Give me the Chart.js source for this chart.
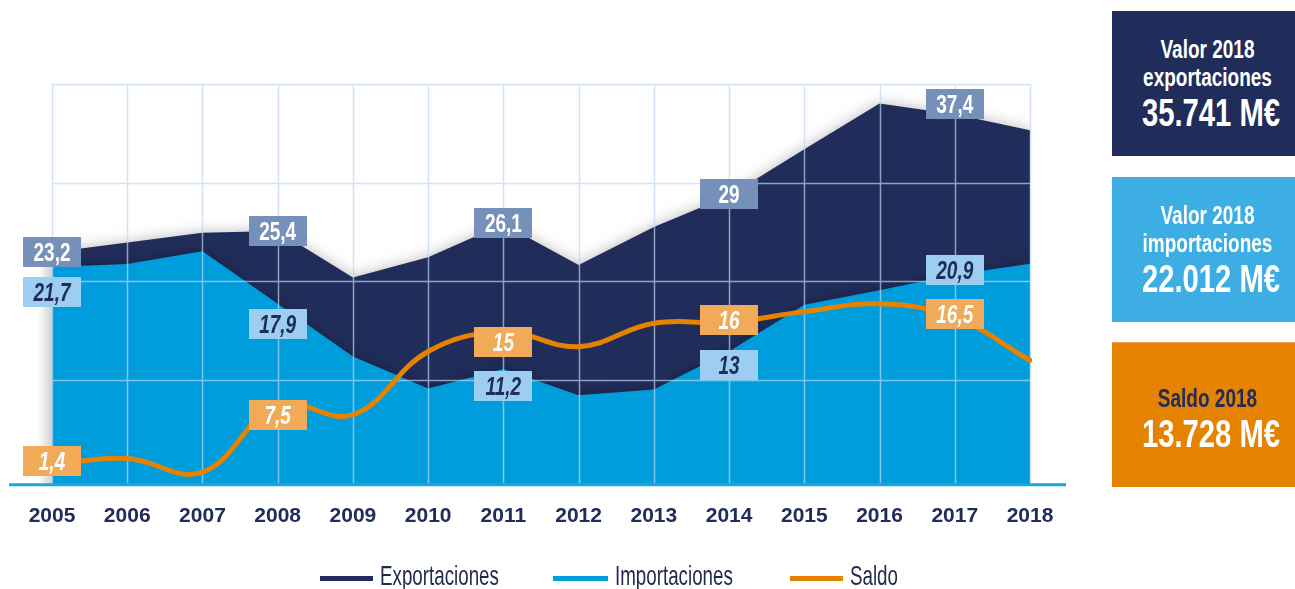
<!DOCTYPE html>
<html lang="es">
<head>
<meta charset="utf-8">
<title>Exportaciones e importaciones 2005-2018</title>
<script src="https://cdn.jsdelivr.net/npm/chart.js@4.4.1/dist/chart.umd.min.js"></script>
<style>
  html, body { margin: 0; padding: 0; background: #fff; }
  body {
    width: 1295px; height: 589px; position: relative; overflow: hidden;
    font-family: "Liberation Sans", Arial, sans-serif;
  }
  #wrap { position: absolute; left: 0; top: 0; width: 1217px; height: 589px; }
  .kpi {
    position: absolute; left: 1112px; width: 183px; height: 145px;
    box-sizing: border-box; padding-left: 8px; text-align: center;
    color: #fff; font-weight: bold;
  }
  .kpi div { font-size: 25px; line-height: 28px; white-space: nowrap; transform: scaleX(0.76); }
  .kpi div.big { font-size: 39px; line-height: 44px; transform: scaleX(0.75); }
  #k1 { top: 11px; background: #202d5a; padding-top: 24px; }
  #k2 { top: 177px; background: #3daee3; padding-top: 24px; }
  #k3 { top: 342px; background: #e58200; padding-top: 41px; border-top: 1px solid #f0a050; }
  #k3 div.dark { color: #202d5a; }
  .sw { position: absolute; top: 576px; height: 5px; }
  .lg {
    position: absolute; top: 560px; font-size: 28px; line-height: 32px; color: #1f2a4a;
    white-space: nowrap; transform: scaleX(0.67); transform-origin: left center;
  }
</style>
</head>
<body>
<div id="wrap"><canvas id="chart" width="1217" height="589"></canvas></div>

<div class="kpi" id="k1">
  <div>Valor 2018</div>
  <div>exportaciones</div>
  <div class="big">35.741 M€</div>
</div>
<div class="kpi" id="k2">
  <div>Valor 2018</div>
  <div>importaciones</div>
  <div class="big">22.012 M€</div>
</div>
<div class="kpi" id="k3">
  <div class="dark">Saldo 2018</div>
  <div class="big">13.728 M€</div>
</div>

<div id="legend"></div>

<script>
// ----- data (billions of euros) -----
const YEARS = ["2005", "2006", "2007", "2008", "2009", "2010", "2011", "2012", "2013", "2014", "2015", "2016", "2017", "2018"];
const EXPORTS = [23.2, 24.2, 25.2, 25.4, 20.6, 22.7, 26.1, 21.9, 25.8, 29, 33.8, 38.5, 37.4, 35.74];
const IMPORTS = [21.7, 22.0, 23.3, 17.9, 12.5, 9.2, 11.2, 8.5, 9.1, 13, 17.8, 19.3, 20.9, 22.01];
const SALDO = [1.4, 2.0, 0.6, 7.5, 6.5, 13.0, 15, 13.5, 15.9, 16, 17.1, 17.9, 16.5, 12.1];

const SERIES_NAMES = ["Exportaciones", "Importaciones", "Saldo"];
const LABELLED = [0, 3, 6, 9, 12];          // years that carry a value box
const GRID_VALUES = [10.1, 20.2, 30.3, 40.5];

// ----- style -----
const FONT = '"Liberation Sans", Arial, sans-serif';
const NAVY = "#202d5a";
const CYAN = "#009ddc";
const ORANGE = "#e58200";
const SERIES_COLORS = [NAVY, CYAN, ORANGE];
const GRID_COLOR = "rgba(189, 215, 240, 0.69)";
const LEGEND_SWATCH_X = [320, 553, 790];
const LEGEND_TEXT_X = [380, 615, 850];

// value boxes: background, text colour, italic, vertical shift per labelled year
const BOXES = [
  { bg: "#7691b9", fg: "#ffffff", italic: false, dy: [0, 0, -1, -2, -10] },
  { bg: "#9dcdf1", fg: NAVY, italic: true, dy: [25, 20, 17, 13, -5] },
  { bg: "#f0aa58", fg: "#ffffff", italic: true, dy: [-3, 10, 10, -2, -3] }
];

const fmt = v => String(v).replace(".", ",");

// grid over the areas, shadows, value boxes and axis line
const decor = {
  id: "decor",
  beforeDatasetsDraw(chart) {
    const { ctx, chartArea: a, scales: { y } } = chart;
    // soft shadow at the left edge of the areas
    const top = y.getPixelForValue(EXPORTS[0]);
    const g = ctx.createLinearGradient(a.left - 14, 0, a.left, 0);
    g.addColorStop(0, "rgba(0,0,0,0)");
    g.addColorStop(1, "rgba(0,0,0,0.18)");
    ctx.fillStyle = g;
    ctx.fillRect(a.left - 14, top + 8, 14, a.bottom - top - 8);

    ctx.save();
    ctx.shadowColor = "rgba(0,0,0,0.28)";
    ctx.shadowBlur = 14;
  },
  beforeDatasetDraw(chart, args) {
    if (args.index !== 2) return;
    const { ctx, chartArea: a, scales: { x, y } } = chart;
    ctx.shadowColor = "transparent";
    ctx.shadowBlur = 0;
    ctx.strokeStyle = GRID_COLOR;
    ctx.lineWidth = 1.5;
    ctx.beginPath();
    YEARS.forEach((_, i) => {
      const px = Math.round(x.getPixelForValue(i)) + 0.5;
      ctx.moveTo(px, a.top);
      ctx.lineTo(px, a.bottom);
    });
    GRID_VALUES.forEach(v => {
      const py = Math.round(y.getPixelForValue(v)) + 0.5;
      ctx.moveTo(a.left, py);
      ctx.lineTo(a.right, py);
    });
    ctx.stroke();
  },
  afterDatasetsDraw(chart) {
    const { ctx, chartArea: a, scales: { x, y } } = chart;
    ctx.restore();

    // axis line
    ctx.save();
    ctx.strokeStyle = "#1aa7e0";
    ctx.lineWidth = 3;
    ctx.beginPath();
    ctx.moveTo(a.left - 43, a.bottom);
    ctx.lineTo(a.right + 36, a.bottom);
    ctx.stroke();

    // value boxes
    const series = [EXPORTS, IMPORTS, SALDO];
    ctx.textAlign = "center";
    ctx.textBaseline = "alphabetic";
    series.forEach((data, s) => {
      const st = BOXES[s];
      ctx.font = (st.italic ? "italic " : "") + "bold 25px " + FONT;
      LABELLED.forEach((idx, k) => {
        const cx = x.getPixelForValue(idx);
        const cy = y.getPixelForValue(data[idx]) + st.dy[k];
        ctx.fillStyle = st.bg;
        ctx.fillRect(Math.round(cx - 29), Math.round(cy - 15), 58, 30);
        ctx.fillStyle = st.fg;
        ctx.save();
        ctx.translate(cx, cy + 9);
        ctx.scale(0.76, 1);
        ctx.fillText(fmt(data[idx]), 0, 0);
        ctx.restore();
      });
    });
    ctx.restore();
  }
};

new Chart(document.getElementById("chart"), {
  type: "line",
  data: {
    labels: YEARS,
    datasets: [
      { label: SERIES_NAMES[0], data: EXPORTS, order: 3, backgroundColor: NAVY, borderWidth: 0,
        fill: "start", pointRadius: 0, tension: 0 },
      { label: SERIES_NAMES[1], data: IMPORTS, order: 2, backgroundColor: CYAN, borderWidth: 0,
        fill: "start", pointRadius: 0, tension: 0 },
      { label: SERIES_NAMES[2], data: SALDO, order: 1, borderColor: ORANGE, borderWidth: 5,
        fill: false, pointRadius: 0, tension: 0.4, borderCapStyle: "round" }
    ]
  },
  options: {
    responsive: false,
    animation: false,
    devicePixelRatio: 1,
    layout: { padding: { left: 52, right: 187, top: 84, bottom: 41 } },
    plugins: { legend: { display: false }, tooltip: { enabled: false } },
    scales: {
      x: {
        offset: false,
        grid: { display: false, drawTicks: false },
        border: { display: false },
        ticks: { padding: 19, color: NAVY, autoSkip: false, maxRotation: 0,
                 font: { family: FONT, size: 21, weight: "bold" } }
      },
      y: { display: false, min: -0.7, max: 40.5 }
    }
  },
  plugins: [decor]
});

// legend
const legend = document.getElementById("legend");
SERIES_NAMES.forEach((name, i) => {
  const sw = document.createElement("div");
  sw.className = "sw";
  sw.style.left = LEGEND_SWATCH_X[i] + "px";
  sw.style.width = (LEGEND_TEXT_X[i] - LEGEND_SWATCH_X[i] - 7) + "px";
  sw.style.background = SERIES_COLORS[i];
  const txt = document.createElement("div");
  txt.className = "lg";
  txt.style.left = LEGEND_TEXT_X[i] + "px";
  txt.textContent = name;
  legend.appendChild(sw);
  legend.appendChild(txt);
});
</script>
</body>
</html>
